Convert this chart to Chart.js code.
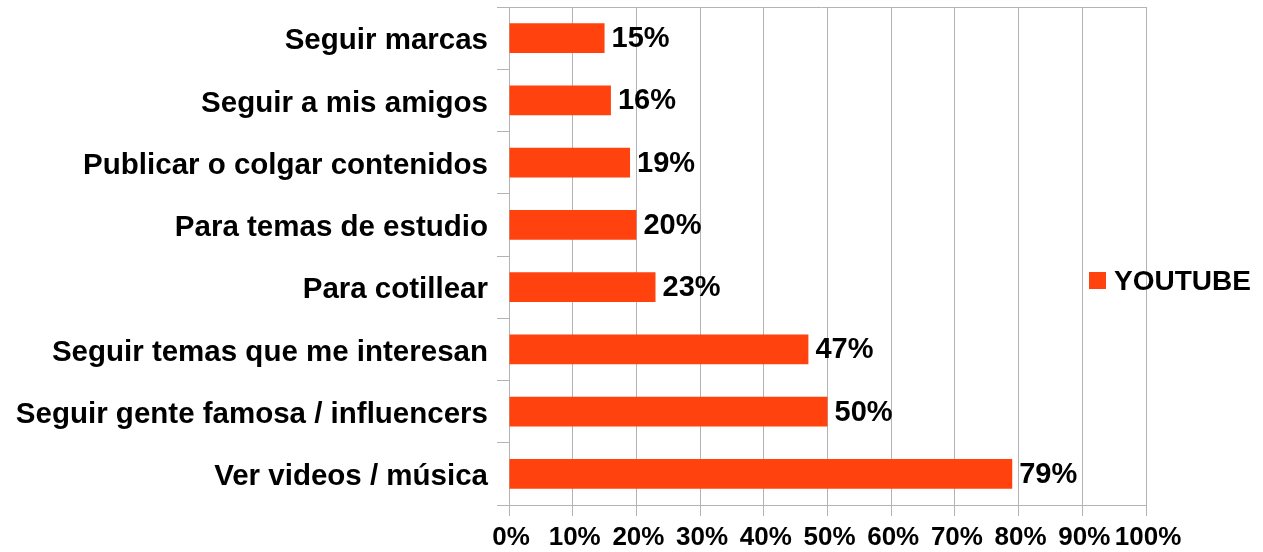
<!DOCTYPE html>
<html>
<head>
<meta charset="utf-8">
<script src="https://cdn.jsdelivr.net/npm/chart.js@4"></script>
<style>
    html, body { margin: 0; padding: 0; background: #fff; }
    #wrap { width: 1263px; height: 552px; }
</style>
</head>
<body>
<div id="wrap"><canvas id="chart-youtube"></canvas></div>
<script>
const CATEGORIES = [
    'Seguir marcas',
    'Seguir a mis amigos',
    'Publicar o colgar contenidos',
    'Para temas de estudio',
    'Para cotillear',
    'Seguir temas que me interesan',
    'Seguir gente famosa / influencers',
    'Ver videos / música',
]
const YOUTUBE = [15, 16, 19, 20, 23, 47, 50, 79]
const SERIES_LABEL = 'YOUTUBE'
const X_MIN = 0
const X_MAX = 100
const X_STEP = 10

const BAR_COLOR = '#ff420e'
const GRID_COLOR = '#b3b3b3'
const FONT = 'Liberation Sans, Arial, sans-serif'

// percent labels at the end of each bar
const barLabels = {
    id: 'barLabels',
    afterDatasetsDraw(chart) {
        const ctx = chart.ctx
        const meta = chart.getDatasetMeta(0)
        ctx.save()
        ctx.font = 'bold 29px ' + FONT
        ctx.fillStyle = '#000'
        ctx.textAlign = 'left'
        ctx.textBaseline = 'middle'
        meta.data.forEach((bar, i) => {
            ctx.fillText(chart.data.datasets[0].data[i] + '%', bar.x + 7, bar.y + 1)
        })
        ctx.restore()
    },
}

// top border of the plot + legend on the right
const frame = {
    id: 'frame',
    beforeDatasetsDraw(chart) {
        const { ctx, chartArea } = chart
        ctx.save()
        ctx.strokeStyle = GRID_COLOR
        ctx.lineWidth = 1
        ctx.beginPath()
        ctx.moveTo(chartArea.left - 12, chartArea.top + 0.5)
        ctx.lineTo(chartArea.right, chartArea.top + 0.5)
        ctx.stroke()
        ctx.restore()
    },
    afterDraw(chart) {
        const { ctx, chartArea } = chart
        const ds = chart.data.datasets[0]
        const cy = (chartArea.top + chartArea.bottom) / 2 + 25
        const x = chartArea.right - 57
        ctx.save()
        ctx.fillStyle = ds.backgroundColor
        ctx.fillRect(x, cy - 9, 17, 17)
        ctx.font = 'bold 28px ' + FONT
        ctx.fillStyle = '#000'
        ctx.textAlign = 'left'
        ctx.textBaseline = 'middle'
        ctx.fillText(ds.label, x + 25, cy + 1)
        ctx.restore()
    },
}

const chartYoutube = new Chart(document.getElementById('chart-youtube'), {
    type: 'bar',
    data: {
        labels: CATEGORIES,
        datasets: [
            {
                label: SERIES_LABEL,
                data: YOUTUBE,
                backgroundColor: BAR_COLOR,
                borderWidth: 0,
                categoryPercentage: 1,
                barPercentage: 0.48,
            },
        ],
    },
    options: {
        indexAxis: 'y',
        responsive: true,
        maintainAspectRatio: false,
        animation: false,
        layout: {
            padding: { top: 7, right: 117, left: 0, bottom: 0 },
        },
        plugins: {
            legend: { display: false },
            tooltip: { enabled: false },
        },
        scales: {
            x: {
                min: X_MIN,
                max: X_MAX,
                ticks: {
                    stepSize: X_STEP,
                    color: '#000',
                    padding: 6,
                    labelOffset: 2,
                    font: { family: FONT, size: 26, weight: 'bold' },
                    callback: (v) => v + '%',
                    maxRotation: 0,
                    autoSkip: false,
                },
                grid: {
                    color: GRID_COLOR,
                    tickLength: 11,
                },
                border: { color: GRID_COLOR },
                afterFit: (scale) => {
                    scale.height = 47
                },
            },
            y: {
                ticks: {
                    color: '#000',
                    padding: 9,
                    labelOffset: 3,
                    font: { family: FONT, size: 29.5, weight: 'bold' },
                    autoSkip: false,
                },
                grid: {
                    drawOnChartArea: false,
                    color: GRID_COLOR,
                    tickLength: 12,
                },
                border: { color: GRID_COLOR },
                afterFit: (scale) => {
                    scale.width = 509
                    scale.paddingTop = 0
                    scale.paddingBottom = 0
                },
            },
        },
    },
    plugins: [barLabels, frame],
})
</script>
</body>
</html>
